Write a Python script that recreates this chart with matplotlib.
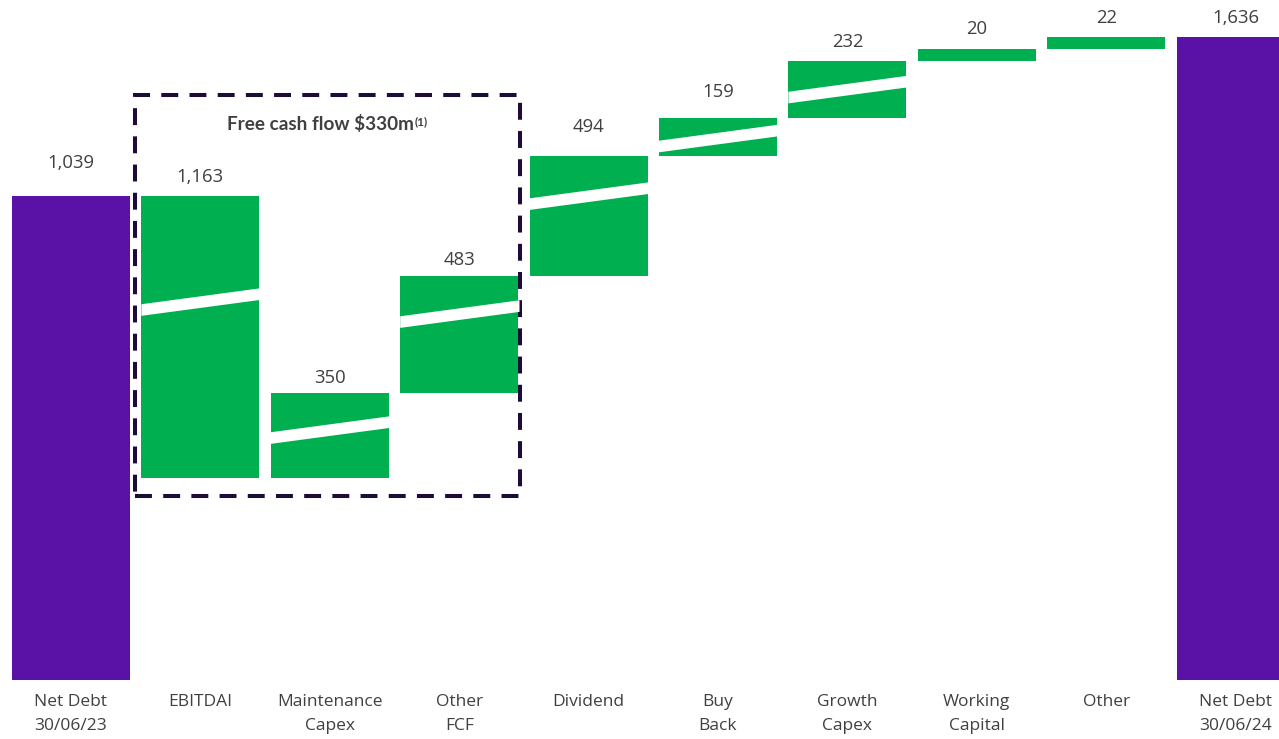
import matplotlib.pyplot as plt
from matplotlib.patches import Polygon, Rectangle

categories = ["Net Debt\n30/06/23", "EBITDAI", "Maintenance\nCapex", "Other\nFCF", "Dividend",
              "Buy\nBack", "Growth\nCapex", "Working\nCapital", "Other", "Net Debt\n30/06/24"]
opening = 1039
steps = [-1163, 350, 483, 494, 159, 232, 20, 22]
closing = 1636

# styling
PURPLE = "#5a12a6"
GREEN = "#00b050"
TEXT = "#404040"
BOX = "#1d0b3a"
FLOOR = -957          # axis floor, chart is not drawn from zero
MIN_STEP = 50         # tiny steps drawn with a minimum height
K = 4.124             # data units per pixel on the y axis
WIDTH = 0.912
label_gap_px = [28, 14, 10, 11, 24, 21, 14, 15, 14, 14]
stripe_frac = [0.376, 0.435, 0.325, 0.333, 0.54, 0.5, None, None]  # from bar top

plt.rcParams['font.family'] = ['Open Sans', 'DejaVu Sans']

fig = plt.figure(figsize=(12.79, 7.39), dpi=100)
ax = fig.add_axes([0, 59 / 739, 1, 680 / 739])
ax.set_xlim(-71 / 129.4, -71 / 129.4 + 1279 / 129.4)
ax.set_ylim(FLOOR, FLOOR + 680 * K)

def label(x, top, text, gap):
    ax.annotate(text, (x, top), xytext=(0, gap * 0.72), textcoords="offset points",
                ha="center", va="baseline", fontsize=13.3, color=TEXT)

# opening bar
ax.bar(0, opening - FLOOR, bottom=FLOOR, width=WIDTH, color=PURPLE)
label(0, opening, f"{opening:,}", label_gap_px[0])

level = opening
for i, s in enumerate(steps):
    x = i + 1
    shown = s if abs(s) >= MIN_STEP else MIN_STEP * (1 if s > 0 else -1)
    lo, hi = sorted([level, level + shown])
    ax.bar(x, hi - lo, bottom=lo, width=WIDTH, color=GREEN)
    label(x, hi, f"{abs(s):,}", label_gap_px[x])
    f = stripe_frac[i]
    if f is not None:
        c = hi - f * (hi - lo)
        half = 5.8 * K
        rise = 8 * K
        x0, x1 = x - WIDTH / 2, x + WIDTH / 2 + 0.01
        ax.add_patch(Polygon([(x0, c - rise - half), (x1, c + rise - half),
                              (x1, c + rise + half), (x0, c - rise + half)],
                             closed=True, facecolor="white", edgecolor="none", zorder=4))
    level += shown

# closing bar
ax.bar(9, level - FLOOR, bottom=FLOOR, width=WIDTH, color=PURPLE)
label(9, level, f"{closing:,}", label_gap_px[9])

# free cash flow box
y_top = FLOOR + (680 - 95) * K
y_bot = FLOOR + (680 - 495.5) * K
ax.add_patch(Rectangle((0.4946, y_bot), 3.470 - 0.4946, y_top - y_bot, fill=False,
                       edgecolor=BOX, linewidth=2.9, linestyle=(0, (4.2, 2.8)), zorder=3))
title = ax.text(1.93, FLOOR + (680 - 130) * K, "Free cash flow $330m", ha="center",
                va="baseline", fontsize=13.6, fontweight="bold", color=TEXT,
                family=["Lato", "DejaVu Sans"])
ax.annotate("(1)", xy=(1, 1), xycoords=title, xytext=(0.5, -1), textcoords="offset points",
            ha="left", va="top", fontsize=8.5, fontweight="bold", color=TEXT,
            family=["Lato", "DejaVu Sans"])

ax.set_xticks(range(len(categories)))
ax.set_xticklabels(categories, fontsize=12.5, color=TEXT, linespacing=1.65)
ax.tick_params(axis="x", length=0, pad=10)
ax.set_yticks([])
for sp in ax.spines.values():
    sp.set_visible(False)

fig.savefig("out.png", dpi=100)
